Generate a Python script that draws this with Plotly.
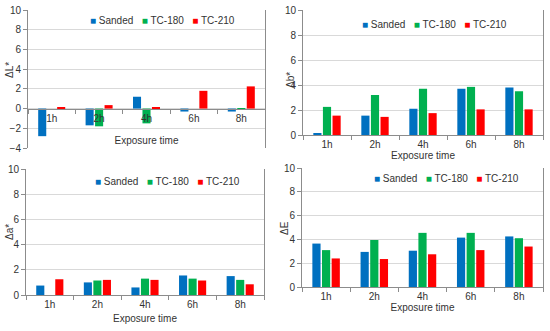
import plotly.graph_objects as go

# exposure times (categories)
hours = ["1h", "2h", "4h", "6h", "8h"]
series = ["Sanded", "TC-180", "TC-210"]

# delta L*
dL_sanded = [-2.8, -1.7, 1.2, -0.3, -0.3]
dL_tc180 = [0.0, -1.8, -1.5, 0.0, -0.1]
dL_tc210 = [0.15, 0.35, 0.15, 1.8, 2.25]

# delta b*
db_sanded = [0.15, 1.55, 2.1, 3.7, 3.8]
db_tc180 = [2.25, 3.2, 3.7, 3.85, 3.5]
db_tc210 = [1.55, 1.45, 1.75, 2.05, 2.05]

# delta a*
da_sanded = [0.75, 1.0, 0.6, 1.55, 1.5]
da_tc180 = [0.0, 1.15, 1.3, 1.3, 1.2]
da_tc210 = [1.25, 1.2, 1.2, 1.15, 0.85]

# delta E
dE_sanded = [3.65, 2.95, 3.05, 4.15, 4.25]
dE_tc180 = [3.1, 3.95, 4.55, 4.55, 4.1]
dE_tc210 = [2.4, 2.35, 2.75, 3.1, 3.4]

colors = ["#0070C0", "#00B050", "#FF0000"]

panels = [
    ("ΔL*", [dL_sanded, dL_tc180, dL_tc210], [-4, 10]),
    ("Δb*", [db_sanded, db_tc180, db_tc210], [0, 10]),
    ("Δa*", [da_sanded, da_tc180, da_tc210], [0, 10]),
    ("ΔE", [dE_sanded, dE_tc180, dE_tc210], [0, 10]),
]

W, H = 550, 331


def px(x):
    return x / W


def py(y):
    return 1 - y / H


# plot area boxes (pixels: left, right, top, bottom)
boxes = [(28, 265, 10, 148), (303, 543, 10, 135), (26, 264, 169, 295), (302, 543, 168, 287)]
legend_at = [(88, 20), (360, 24), (93, 181), (372, 178)]
ytitle_at = [(9, 70), (290, 80), (9, 232), (284, 228)]
xtitle_standoff = [14, 1, 5, 0]

fig = go.Figure()

grid = "#d9d9d9"
axcol = "#8c8c8c"
font = dict(family="Liberation Sans, Arial, sans-serif", size=10, color="#333333")

# legend text made of coloured squares
nb = "\u00a0"
legend_text = (nb * 3).join(
    f"<span style='color:{c}'>■</span>{nb}{s}" for s, c in zip(series, colors)
)

for i, (title, vals, yr) in enumerate(panels):
    n = "" if i == 0 else str(i + 1)
    for name, v, c in zip(series, vals, colors):
        fig.add_trace(go.Bar(
            x=hours, y=v, name=name,
            marker=dict(color=c, line=dict(width=0)),
            xaxis="x" + n, yaxis="y" + n,
            showlegend=False,
        ))

    l, r, t, b = boxes[i]
    xd = [px(l), px(r)]
    yd = [py(b), py(t)]
    xa = dict(
        domain=xd, anchor="y" + n, automargin=False,
        showline=True, linecolor=axcol, linewidth=1,
        ticks="outside", ticklen=4, tickcolor=axcol, tickson="boundaries",
        showgrid=False, tickfont=font,
        title=dict(text="Exposure time", font=font, standoff=xtitle_standoff[i]),
    )
    if yr[0] < 0:
        # category axis crosses at zero
        pos = yd[0] + (0 - yr[0]) / (yr[1] - yr[0]) * (yd[1] - yd[0])
        xa.update(anchor="free", position=pos)
    ya = dict(
        domain=yd, anchor="x" + n, range=yr, dtick=2, automargin=False,
        showline=True, linecolor=axcol, linewidth=1, mirror=True,
        ticks="outside", ticklen=4, tickcolor=axcol,
        showgrid=True, gridcolor=grid, gridwidth=1, zeroline=False,
        tickfont=font,
    )
    fig.update_layout({"xaxis" + n: xa, "yaxis" + n: ya})

    tx, ty = ytitle_at[i]
    fig.add_annotation(text=title, x=px(tx), y=py(ty), xref="paper", yref="paper",
                       textangle=-90, showarrow=False, font=font,
                       xanchor="center", yanchor="middle")
    lx, ly = legend_at[i]
    fig.add_annotation(text=legend_text, x=px(lx), y=py(ly), xref="paper", yref="paper",
                       showarrow=False, font=font, xanchor="left", yanchor="middle")

fig.update_layout(
    width=W, height=H,
    margin=dict(l=0, r=0, t=0, b=0, autoexpand=False),
    paper_bgcolor="white", plot_bgcolor="white",
    barmode="group", bargap=0.4, bargroupgap=0.15,
    font=font, showlegend=False,
)

fig.write_html("out.html", config={"displayModeBar": False},
               post_script="document.body.style.margin='0';")
